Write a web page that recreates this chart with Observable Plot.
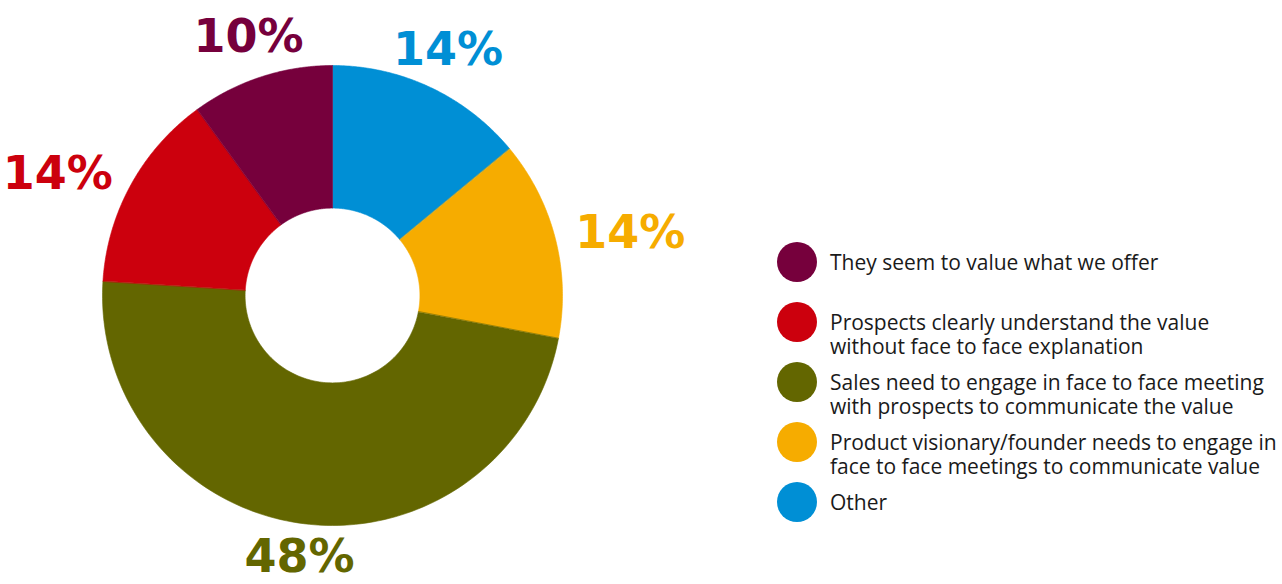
<!DOCTYPE html>
<html>
<head>
<meta charset="utf-8">
<script src="https://cdn.jsdelivr.net/npm/d3@7"></script>
<script src="https://cdn.jsdelivr.net/npm/@observablehq/plot@0.6"></script>
<style>
  html, body { margin: 0; padding: 0; background: #ffffff; }
  #wrap { position: relative; width: 1282px; height: 584px; overflow: hidden; }
  #legend { position: absolute; left: 777px; top: 242px; font-family: "Open Sans", sans-serif; font-size: 21px; color: #1a1a1a; }
  .item { position: absolute; left: 0; display: flex; align-items: flex-start; white-space: nowrap; }
  .sw { width: 40px; height: 40px; border-radius: 50%; flex: none; }
  .lab { margin-left: 13px; line-height: 24px; margin-top: 8px; }
</style>
</head>
<body>
<div id="wrap"><div id="legend"></div></div>
<script>
// Data (slices drawn clockwise from 12 o'clock)
const categories = [
  "Other",
  "Product visionary/founder needs to engage in face to face meetings to communicate value",
  "Sales need to engage in face to face meeting with prospects to communicate the value",
  "Prospects clearly understand the value without face to face explanation",
  "They seem to value what we offer"
];
const values = [14, 14, 48, 14, 10];
const colors = ["#008fd5", "#f6ac00", "#636600", "#cc000d", "#76003c"];
const legendOrder = [4, 3, 2, 1, 0];
const legendLines = {
  0: ["Other"],
  1: ["Product visionary/founder needs to engage in", "face to face meetings to communicate value"],
  2: ["Sales need to engage in face to face meeting", "with prospects to communicate the value"],
  3: ["Prospects clearly understand the value", "without face to face explanation"],
  4: ["They seem to value what we offer"]
};

// Layout constants
const W = 1282, H = 584, CX = 332, CY = 295, R = 230, INNER = 0.38;

const pie = d3.pie().sort(null).value(d => d.value)(categories.map((c, i) => ({cat: c, value: values[i]})));

const rows = [];
pie.forEach(p => {
  const n = 120;
  for (let k = 0; k <= n; k++) {
    const a = p.startAngle + (p.endAngle - p.startAngle) * k / n;
    rows.push({cat: p.data.cat, x: Math.sin(a), y: Math.cos(a)});
  }
  for (let k = n; k >= 0; k--) {
    const a = p.startAngle + (p.endAngle - p.startAngle) * k / n;
    rows.push({cat: p.data.cat, x: INNER * Math.sin(a), y: INNER * Math.cos(a)});
  }
});

const labels = pie.map(p => {
  const a = (p.startAngle + p.endAngle) / 2;
  const s = Math.sin(a);
  const anchor = s > 0.6 ? "start" : s < -0.6 ? "end" : "middle";
  const r = anchor === "middle" ? (Math.cos(a) > 0 ? 1.18 : 1.145) : 1.09;
  return {cat: p.data.cat, text: p.data.value + "%", x: r * Math.sin(a), y: r * Math.cos(a), anchor};
});

const labelMark = anchor => Plot.text(labels.filter(d => d.anchor === anchor), {
  x: "x", y: "y", text: "text", fill: "cat", textAnchor: anchor,
  fontSize: 46, fontWeight: "bold", fontFamily: "DejaVu Sans"
});

const chart = Plot.plot({
  width: W, height: H,
  margin: 0,
  x: {domain: [-CX / R, (W - CX) / R], range: [0, W], axis: null},
  y: {domain: [-(H - CY) / R, CY / R], range: [H, 0], axis: null},
  color: {domain: categories, range: colors},
  style: {background: "transparent"},
  marks: [
    Plot.line(rows, {x: "x", y: "y", z: "cat", fill: "cat", stroke: "cat", strokeWidth: 0.6, curve: "linear-closed"}),
    labelMark("start"),
    labelMark("end"),
    labelMark("middle")
  ]
});
const wrap = document.getElementById("wrap");
wrap.insertBefore(chart, wrap.firstChild);

const legend = document.getElementById("legend");
legendOrder.forEach((i, k) => {
  const div = document.createElement("div");
  div.className = "item";
  div.style.top = (k * 60) + "px";
  const sw = document.createElement("div");
  sw.className = "sw";
  sw.style.background = colors[i];
  const lab = document.createElement("div");
  lab.className = "lab";
  lab.innerHTML = legendLines[i].join("<br>");
  div.appendChild(sw);
  div.appendChild(lab);
  legend.appendChild(div);
});
</script>
</body>
</html>
